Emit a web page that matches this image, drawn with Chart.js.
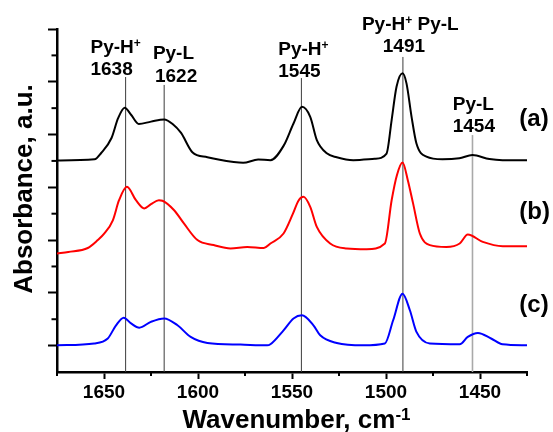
<!DOCTYPE html>
<html>
<head>
<meta charset="utf-8">
<script src="https://cdn.jsdelivr.net/npm/chart.js@4.4.1/dist/chart.umd.min.js"></script>
<style>
  html, body { margin: 0; padding: 0; background: #fff; }
  #wrap { width: 553px; height: 432px; }
</style>
</head>
<body>
<div id="wrap"><canvas id="chart"></canvas></div>
<script>
// spectra: wavenumber (cm-1) and stacked absorbance (a.u.)
const waveA = [1675, 1655, 1651.5, 1646, 1642.5, 1639, 1635.5, 1631.5, 1625, 1618, 1613.5, 1609, 1603, 1595, 1581, 1576, 1568, 1561.5, 1554.5, 1549.2, 1544.7, 1540.3, 1536.8, 1531.5, 1526.2, 1517.4, 1506, 1499.7, 1497, 1494.4, 1491.2, 1489.1, 1486.4, 1483.8, 1478.5, 1470, 1461, 1454, 1445, 1438, 1425];
const absA  = [8.02, 8.06, 8.30, 8.87, 9.62, 10.02, 9.74, 9.40, 9.49, 9.57, 9.40, 9.06, 8.33, 8.14, 7.96, 7.93, 8.05, 8.03, 8.57, 9.42, 10.05, 9.67, 8.79, 8.29, 8.14, 8.03, 8.08, 8.28, 9.55, 10.81, 11.32, 10.94, 9.67, 8.66, 8.16, 8.06, 8.10, 8.22, 8.07, 8.03, 8.03];

const waveB = [1675, 1669, 1658.6, 1653.3, 1649.8, 1645.3, 1642, 1637.8, 1633, 1628.6, 1625, 1620.8, 1618.9, 1612.7, 1607.6, 1600.3, 1591.7, 1582.7, 1573.8, 1565, 1561.5, 1554.5, 1549.5, 1546.5, 1543.9, 1540.3, 1536.8, 1529.7, 1520.9, 1510.3, 1500.6, 1497, 1494.2, 1491.2, 1488.4, 1485.6, 1482, 1476.7, 1467.9, 1460.8, 1456.5, 1448.5, 1437.9, 1425];
const absB  = [4.49, 4.55, 4.70, 5.00, 5.25, 5.75, 6.51, 7.02, 6.51, 6.20, 6.36, 6.51, 6.49, 6.13, 5.64, 5.00, 4.81, 4.68, 4.74, 4.70, 4.87, 5.25, 6.00, 6.50, 6.64, 6.26, 5.50, 4.87, 4.68, 4.65, 4.87, 6.51, 7.46, 7.94, 7.27, 6.39, 5.25, 4.81, 4.74, 4.87, 5.21, 4.93, 4.77, 4.77];

const waveC = [1675, 1655.2, 1648, 1643.6, 1639.5, 1635.6, 1631.2, 1625.1, 1618, 1610.9, 1603.9, 1595, 1577.4, 1563.2, 1561.5, 1554.5, 1549.2, 1544.7, 1538.6, 1535, 1526.2, 1512.1, 1500.6, 1496.2, 1491.2, 1487.3, 1483.8, 1476.7, 1460.8, 1456.5, 1451.1, 1444.1, 1438, 1425];
const absC  = [1.01, 1.08, 1.27, 1.77, 2.06, 1.84, 1.68, 1.90, 2.03, 1.77, 1.33, 1.10, 1.04, 1.01, 1.05, 1.58, 2.03, 2.15, 1.77, 1.39, 1.10, 1.01, 1.08, 1.96, 2.97, 2.34, 1.52, 1.08, 1.05, 1.33, 1.48, 1.27, 1.05, 1.01];

// band positions marked with vertical lines
const markerWave = [1638.5, 1618, 1545, 1491, 1454];
const markerTop = [11.18, 10.88, 11.14, 11.94, 8.98];
const markerColor = ['#3c3c3c', '#3c3c3c', '#3c3c3c', '#3c3c3c', '#a9a9a9'];

// band labels (^{..} = superscript), left edge and baseline in data units
const peakLabels = ['Py-H^{+}', '1638', 'Py-L', '1622', 'Py-H^{+}', '1545', 'Py-H^{+} Py-L', '1491', 'Py-L', '1454'];
const peakLabelX = [1657.2, 1657.2, 1624.0, 1622.9, 1557.3, 1557.3, 1512.8, 1501.7, 1464.5, 1464.5];
const peakLabelY = [12.09, 11.26, 11.86, 10.99, 12.01, 11.18, 12.96, 12.13, 9.93, 9.09];

const seriesNames = ['(a)', '(b)', '(c)'];
const seriesNameY = [9.32, 5.81, 2.26];
const seriesNameX = 1429.1;

const xTicks = [1450, 1500, 1550, 1600, 1650];
const xMinorTicks = [1425, 1475, 1525, 1575, 1625, 1675];
const yTicks = [1, 3, 5, 7, 9, 11, 13];
const yMinorTicks = [2, 4, 6, 8, 10, 12];

const FONT = '"Liberation Sans", Arial, sans-serif';

function richParts(str) {
  const parts = [];
  const re = /\^\{([^}]*)\}/g;
  let last = 0, m;
  while ((m = re.exec(str))) {
    if (m.index > last) parts.push({ t: str.slice(last, m.index), sup: false });
    parts.push({ t: m[1], sup: true });
    last = re.lastIndex;
  }
  if (last < str.length) parts.push({ t: str.slice(last), sup: false });
  return parts;
}

function drawRich(ctx, str, x, y, size, align) {
  const parts = richParts(str);
  const fontFor = p => `bold ${p.sup ? Math.round(size * 0.64) : size}px ${FONT}`;
  let total = 0;
  parts.forEach(p => { ctx.font = fontFor(p); p.w = ctx.measureText(p.t).width; total += p.w; });
  let cx = align === 'center' ? x - total / 2 : x;
  ctx.textAlign = 'left';
  ctx.textBaseline = 'alphabetic';
  parts.forEach(p => {
    ctx.font = fontFor(p);
    ctx.fillText(p.t, cx, p.sup ? y - size * 0.3 : y);
    cx += p.w;
  });
}

const decorations = {
  id: 'decorations',
  afterDraw(chart) {
    const { ctx, chartArea } = chart;
    const x = chart.scales.x, y = chart.scales.y;
    ctx.save();
    // minor ticks
    ctx.strokeStyle = '#000';
    ctx.lineWidth = 2;
    xMinorTicks.forEach(v => {
      const px = x.getPixelForValue(v);
      ctx.beginPath();
      ctx.moveTo(px, chartArea.bottom);
      ctx.lineTo(px, chartArea.bottom + 4);
      ctx.stroke();
    });
    yMinorTicks.forEach(v => {
      const py = y.getPixelForValue(v);
      ctx.beginPath();
      ctx.moveTo(chartArea.left - 5.5, py);
      ctx.lineTo(chartArea.left, py);
      ctx.stroke();
    });

    ctx.fillStyle = '#000';
    peakLabels.forEach((t, i) => {
      drawRich(ctx, t, x.getPixelForValue(peakLabelX[i]), y.getPixelForValue(peakLabelY[i]), 19);
    });
    seriesNames.forEach((t, i) => {
      drawRich(ctx, t, x.getPixelForValue(seriesNameX), y.getPixelForValue(seriesNameY[i]), 24);
    });

    // axis titles
    drawRich(ctx, 'Wavenumber, cm^{-1}', 296.5, 428, 26, 'center');
    ctx.translate(32, 189);
    ctx.rotate(-Math.PI / 2);
    drawRich(ctx, 'Absorbance, a.u.', 0, 0, 26, 'center');
    ctx.restore();
  }
};

const toPoints = (xs, ys) => xs.map((v, i) => ({ x: v, y: ys[i] }));

const curve = (label, xs, ys, color) => ({
  label,
  data: toPoints(xs, ys),
  borderColor: color,
  borderWidth: 2,
  pointRadius: 0,
  tension: 0.4,
  cubicInterpolationMode: 'monotone',
  order: 0
});

const datasets = [
  curve('(a)', waveA, absA, '#000000'),
  curve('(b)', waveB, absB, '#ff0000'),
  curve('(c)', waveC, absC, '#0000ff')
];

markerWave.forEach((w, i) => {
  datasets.push({
    label: 'marker ' + w,
    data: [{ x: w, y: 0 }, { x: w, y: markerTop[i] }],
    borderColor: markerColor[i],
    borderWidth: i === 4 ? 1.6 : 1,
    pointRadius: 0,
    tension: 0,
    order: 1
  });
});

new Chart(document.getElementById('chart'), {
  type: 'line',
  data: { datasets },
  options: {
    responsive: true,
    maintainAspectRatio: false,
    animation: false,
    layout: { padding: { top: 29, right: 26, left: 0, bottom: 0 } },
    plugins: {
      legend: { display: false },
      tooltip: { enabled: false }
    },
    scales: {
      x: {
        type: 'linear',
        min: 1425,
        max: 1675,
        reverse: true,
        afterBuildTicks: scale => { scale.ticks = xTicks.map(v => ({ value: v })); },
        afterFit: scale => { scale.height = 60; },
        ticks: {
          color: '#000',
          padding: 2,
          font: { family: FONT, size: 19, weight: 'bold' },
          callback: v => String(v)
        },
        grid: { drawOnChartArea: false, color: '#000', tickLength: 7, tickWidth: 2 },
        border: { color: '#000', width: 2.5 }
      },
      y: {
        type: 'linear',
        min: 0,
        max: 13,
        afterBuildTicks: scale => { scale.ticks = yTicks.map(v => ({ value: v })); },
        afterFit: scale => { scale.width = 57; },
        ticks: { display: false },
        grid: { drawOnChartArea: false, color: '#000', tickLength: 9, tickWidth: 2 },
        border: { color: '#000', width: 2.5 }
      }
    }
  },
  plugins: [decorations]
});
</script>
</body>
</html>
